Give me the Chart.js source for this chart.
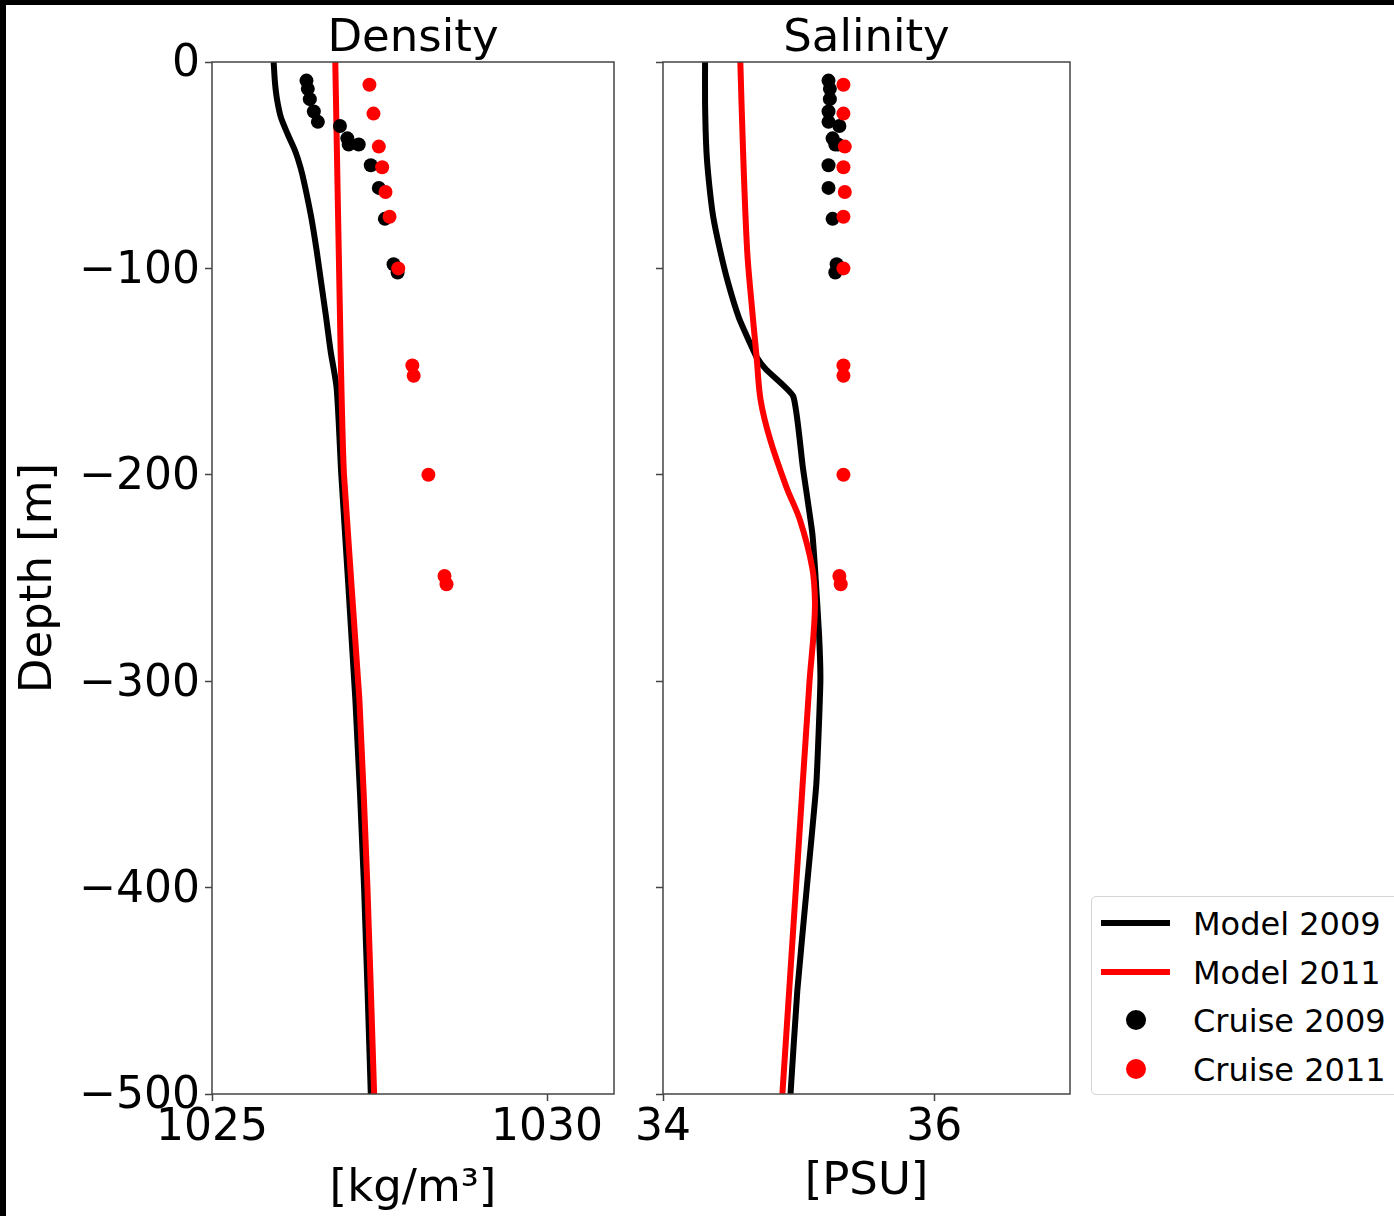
<!DOCTYPE html>
<html>
<head>
<meta charset="utf-8">
<script src="https://cdn.jsdelivr.net/npm/chart.js@4.4.0/dist/chart.umd.min.js"></script>
<style>
  body { margin: 0; background: #fff; width: 1394px; height: 1216px; overflow: hidden; position: relative; font-family: 'DejaVu Sans'; }
  canvas { position: absolute; top: 0; }
  #density-chart { left: 0; }
  #salinity-chart { left: 620px; }
  .strip { position: absolute; background: #000; z-index: 5; }
  #legend { position: absolute; left: 1091px; top: 896px; width: 330px; height: 197px; border: 1.5px solid #d4d4d4; border-radius: 5px; background: #fff; }
  .row { position: absolute; left: 0; height: 48px; width: 100%; }
  .row span { position: absolute; left: 101px; top: 6px; font-size: 32px; color: #000; white-space: nowrap; }
  .handle-line { position: absolute; left: 9px; top: 21px; width: 69px; height: 6px; }
  .handle-dot { position: absolute; left: 34px; top: 14px; width: 20px; height: 20px; border-radius: 50%; }
</style>
</head>
<body>
<canvas id="density-chart" width="640" height="1216"></canvas>
<canvas id="salinity-chart" width="460" height="1216"></canvas>
<div class="strip" style="left:0;top:0;width:6px;height:1216px"></div>
<div class="strip" style="left:0;top:0;width:1394px;height:5px"></div>
<div id="legend"></div>
<script>
// axes ticks
const depthTicks = [0, -100, -200, -300, -400, -500];
const densityTicks = [1025, 1030];
const salinityTicks = [34, 36];

// model profiles (depth in m, negative down)
const model2009DensityDepth = [0, -10, -18, -27, -35, -43, -51, -59, -75, -91, -107, -123, -140, -158, -200, -309, -400, -500];
const model2009Density = [1025.92, 1025.94, 1025.97, 1026.03, 1026.13, 1026.24, 1026.32, 1026.38, 1026.48, 1026.56, 1026.63, 1026.70, 1026.77, 1026.86, 1026.93, 1027.14, 1027.27, 1027.37];
const model2011DensityDepth = [0, -140, -200, -309, -400, -500];
const model2011Density = [1026.84, 1026.92, 1026.97, 1027.20, 1027.32, 1027.42];

const model2009SalinityDepth = [0, -20, -43, -59, -75, -91, -107, -124, -136, -143, -149, -162, -196, -228, -245, -277, -300, -350, -400, -450, -500];
const model2009Salinity = [34.31, 34.31, 34.32, 34.34, 34.37, 34.42, 34.48, 34.56, 34.64, 34.69, 34.76, 34.96, 35.03, 35.10, 35.12, 35.15, 35.16, 35.13, 35.06, 34.99, 34.94];
const model2011SalinityDepth = [0, -43, -91, -115, -143, -164, -183, -206, -222, -245, -261, -277, -300, -400, -500];
const model2011Salinity = [34.57, 34.59, 34.62, 34.65, 34.69, 34.72, 34.79, 34.91, 35.01, 35.10, 35.12, 35.11, 35.08, 34.98, 34.88];

// cruise observations
const cruise2009Depth = [-9, -13, -18, -24, -29, -31, -37, -40, -40, -50, -61, -76, -98, -102];
const cruise2009Density = [1026.41, 1026.43, 1026.46, 1026.52, 1026.58, 1026.91, 1027.02, 1027.04, 1027.19, 1027.37, 1027.49, 1027.58, 1027.71, 1027.77];
const cruise2009Salinity = [35.22, 35.23, 35.23, 35.22, 35.22, 35.30, 35.25, 35.27, 35.29, 35.22, 35.22, 35.25, 35.28, 35.27];

const cruise2011Depth = [-11, -25, -41, -51, -63, -75, -100, -147, -152, -200, -249, -253];
const cruise2011Density = [1027.35, 1027.41, 1027.49, 1027.54, 1027.59, 1027.65, 1027.78, 1027.99, 1028.01, 1028.23, 1028.47, 1028.50];
const cruise2011Salinity = [35.33, 35.33, 35.34, 35.33, 35.34, 35.33, 35.33, 35.33, 35.33, 35.33, 35.30, 35.31];

const legendItems = [
    {label: 'Model 2009', color: '#000000', kind: 'line'},
    {label: 'Model 2011', color: '#ff0000', kind: 'line'},
    {label: 'Cruise 2009', color: '#000000', kind: 'dot'},
    {label: 'Cruise 2011', color: '#ff0000', kind: 'dot'}
];

Chart.defaults.font.family = 'DejaVu Sans';
Chart.defaults.color = '#000';

function toPoints(xs, ys){
    return xs.map((x, i) => ({x: x, y: ys[i]}));
}

function minusSign(v){
    return String(v).replace('-', '\u2212');
}

// matplotlib style box round the axes
const framePlugin = {
    id: 'frame',
    afterDraw(chart){
        const {ctx, chartArea: a} = chart;
        ctx.save();
        ctx.strokeStyle = '#444';
        ctx.lineWidth = 1.5;
        ctx.strokeRect(a.left, a.top, a.right - a.left, a.bottom - a.top);
        ctx.restore();
    }
};

function lineSet(label, xs, ys, color, order, tension){
    return {
        label: label,
        data: toPoints(xs, ys),
        showLine: true,
        borderColor: color,
        backgroundColor: color,
        borderWidth: 6,
        borderJoinStyle: 'round',
        tension: tension,
        pointRadius: 0,
        order: order
    };
}

function dotSet(label, xs, ys, color, order){
    return {
        label: label,
        data: toPoints(xs, ys),
        showLine: false,
        backgroundColor: color,
        borderColor: color,
        borderWidth: 0,
        pointRadius: 7,
        order: order
    };
}

function makeChart(canvas, cfg){
    return new Chart(canvas.getContext('2d'), {
        type: 'scatter',
        data: {datasets: cfg.datasets},
        options: {
            responsive: false,
            animation: false,
            layout: {padding: {left: 0, right: cfg.rightPad, top: 0, bottom: 0}},
            plugins: {
                legend: {display: false},
                tooltip: {enabled: false},
                title: {
                    display: true,
                    text: cfg.title,
                    fullSize: false,
                    font: {size: 45, weight: 'normal', lineHeight: 1},
                    padding: {top: 17, bottom: 0},
                    color: '#000'
                }
            },
            scales: {
                x: {
                    type: 'linear',
                    position: 'bottom',
                    min: cfg.xMin,
                    max: cfg.xMax,
                    afterBuildTicks: scale => { scale.ticks = cfg.xTicks.map(v => ({value: v})); },
                    afterFit: scale => { scale.height = 122; },
                    ticks: {font: {size: 44}, padding: 1, maxRotation: 0, color: '#000', callback: v => String(v)},
                    grid: {drawOnChartArea: false, drawTicks: true, tickLength: 7, tickColor: '#444', tickWidth: 1.5},
                    border: {display: false},
                    title: {display: true, text: cfg.xTitle, font: {size: 45}, padding: {top: 0, bottom: cfg.xTitlePad}, color: '#000'}
                },
                y: {
                    type: 'linear',
                    min: -500,
                    max: 0,
                    afterBuildTicks: scale => { scale.ticks = depthTicks.map(v => ({value: v})); },
                    afterFit: scale => { scale.width = cfg.yWidth; },
                    ticks: {display: cfg.yLabels, font: {size: 44}, padding: 5, labelOffset: 3, color: '#000', callback: v => minusSign(v)},
                    grid: {drawOnChartArea: false, drawTicks: true, tickLength: 7, tickColor: '#444', tickWidth: 1.5},
                    border: {display: false},
                    title: {display: cfg.yLabels, text: 'Depth [m]', font: {size: 45}, padding: {top: 12, bottom: 0}, color: '#000'}
                }
            }
        },
        plugins: [framePlugin]
    });
}

makeChart(document.querySelector('#density-chart'), {
    title: 'Density',
    xTitle: '[kg/m\u00b3]',
    xTitlePad: 0,
    xMin: 1025,
    xMax: 1031,
    xTicks: densityTicks,
    yWidth: 212,
    yLabels: true,
    rightPad: 26,
    datasets: [
        lineSet('Model 2009', model2009Density, model2009DensityDepth, '#000000', 4, 0.25),
        lineSet('Model 2011', model2011Density, model2011DensityDepth, '#ff0000', 3, 0.2),
        dotSet('Cruise 2009', cruise2009Density, cruise2009Depth, '#000000', 2),
        dotSet('Cruise 2011', cruise2011Density, cruise2011Depth, '#ff0000', 1)
    ]
});

makeChart(document.querySelector('#salinity-chart'), {
    title: 'Salinity',
    xTitle: '[PSU]',
    xTitlePad: 7,
    xMin: 34,
    xMax: 37,
    xTicks: salinityTicks,
    yWidth: 43,
    yLabels: false,
    rightPad: 10,
    datasets: [
        lineSet('Model 2009', model2009Salinity, model2009SalinityDepth, '#000000', 4, 0.15),
        lineSet('Model 2011', model2011Salinity, model2011SalinityDepth, '#ff0000', 3, 0.35),
        dotSet('Cruise 2009', cruise2009Salinity, cruise2009Depth, '#000000', 2),
        dotSet('Cruise 2011', cruise2011Salinity, cruise2011Depth, '#ff0000', 1)
    ]
});

// legend box at lower right
const legend = document.querySelector('#legend');
legendItems.forEach((item, i) => {
    const row = document.createElement('div');
    row.className = 'row';
    row.style.top = (2 + i * 48.5) + 'px';
    const handle = document.createElement('div');
    handle.className = item.kind === 'line' ? 'handle-line' : 'handle-dot';
    handle.style.background = item.color;
    const text = document.createElement('span');
    text.textContent = item.label;
    row.appendChild(handle);
    row.appendChild(text);
    legend.appendChild(row);
});
</script>
</body>
</html>
